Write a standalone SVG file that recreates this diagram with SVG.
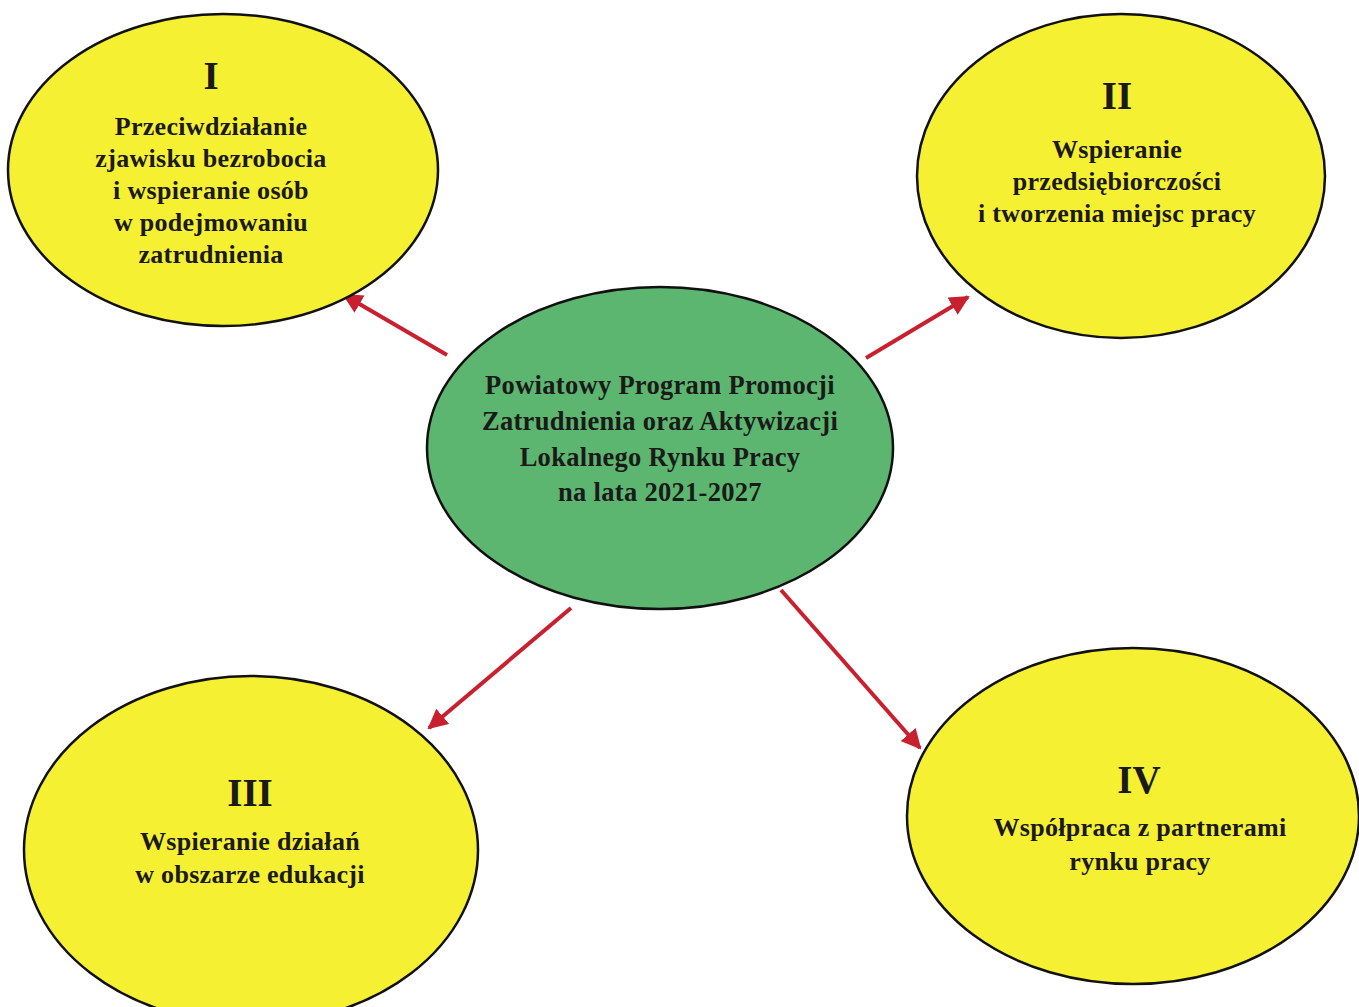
<svg xmlns="http://www.w3.org/2000/svg" width="1359" height="1007" viewBox="0 0 1359 1007">
<defs>
<marker id="ah" viewBox="0 0 10 10" refX="9" refY="5" markerWidth="5" markerHeight="5" orient="auto" markerUnits="strokeWidth">
<path d="M0,0 L10,5 L0,10 Z" fill="#c9202f"/>
</marker>
<style>
.y{fill:#f6f032;stroke:#111;stroke-width:2.5}
.g{fill:#5cb66f;stroke:#111;stroke-width:2.5}
.t{font-family:"Liberation Serif","Times New Roman",serif;font-weight:bold;fill:#1a1a1a;text-anchor:middle}
.n{font-size:39px}
.s{font-size:26px;letter-spacing:0.3px}
.c{font-size:26.5px;letter-spacing:0.3px}
.a{stroke:#c9202f;stroke-width:4;fill:none;marker-end:url(#ah)}
</style>
</defs>
<rect width="1359" height="1007" fill="#ffffff"/>
<g id="connectors">
<line class="a" x1="447" y1="355" x2="344" y2="295"/>
<line class="a" x1="866" y1="358" x2="968" y2="297"/>
<line class="a" x1="571" y1="608" x2="429" y2="728"/>
<line class="a" x1="781" y1="590" x2="920" y2="748"/>
</g>
<g id="node-I">
<ellipse class="y" cx="223" cy="170" rx="215" ry="156"/>
<text class="t n" x="211" y="89">I</text>
<text class="t s" x="211" y="135">Przeciwdziałanie</text>
<text class="t s" x="211" y="167">zjawisku bezrobocia</text>
<text class="t s" x="211" y="199">i wspieranie osób</text>
<text class="t s" x="211" y="231">w podejmowaniu</text>
<text class="t s" x="211" y="263">zatrudnienia</text>
</g>
<g id="node-II">
<ellipse class="y" cx="1121" cy="176" rx="204" ry="162"/>
<text class="t n" x="1117" y="109">II</text>
<text class="t s" x="1117" y="158">Wspieranie</text>
<text class="t s" x="1117" y="190">przedsiębiorczości</text>
<text class="t s" x="1117" y="222">i tworzenia miejsc pracy</text>
</g>
<g id="node-center">
<ellipse class="g" cx="660" cy="448" rx="233" ry="161"/>
<text class="t c" x="660" y="394">Powiatowy Program Promocji</text>
<text class="t c" x="660" y="430">Zatrudnienia oraz Aktywizacji</text>
<text class="t c" x="660" y="466">Lokalnego Rynku Pracy</text>
<text class="t c" x="660" y="501">na lata 2021-2027</text>
</g>
<g id="node-III">
<ellipse class="y" cx="251" cy="850" rx="227" ry="174"/>
<text class="t n" x="250" y="806">III</text>
<text class="t s" x="250" y="850">Wspieranie działań</text>
<text class="t s" x="250" y="883">w obszarze edukacji</text>
</g>
<g id="node-IV">
<ellipse class="y" cx="1133" cy="816" rx="226" ry="168"/>
<text class="t n" x="1139" y="793">IV</text>
<text class="t s" x="1140" y="836">Współpraca z partnerami</text>
<text class="t s" x="1140" y="870">rynku pracy</text>
</g>
</svg>
